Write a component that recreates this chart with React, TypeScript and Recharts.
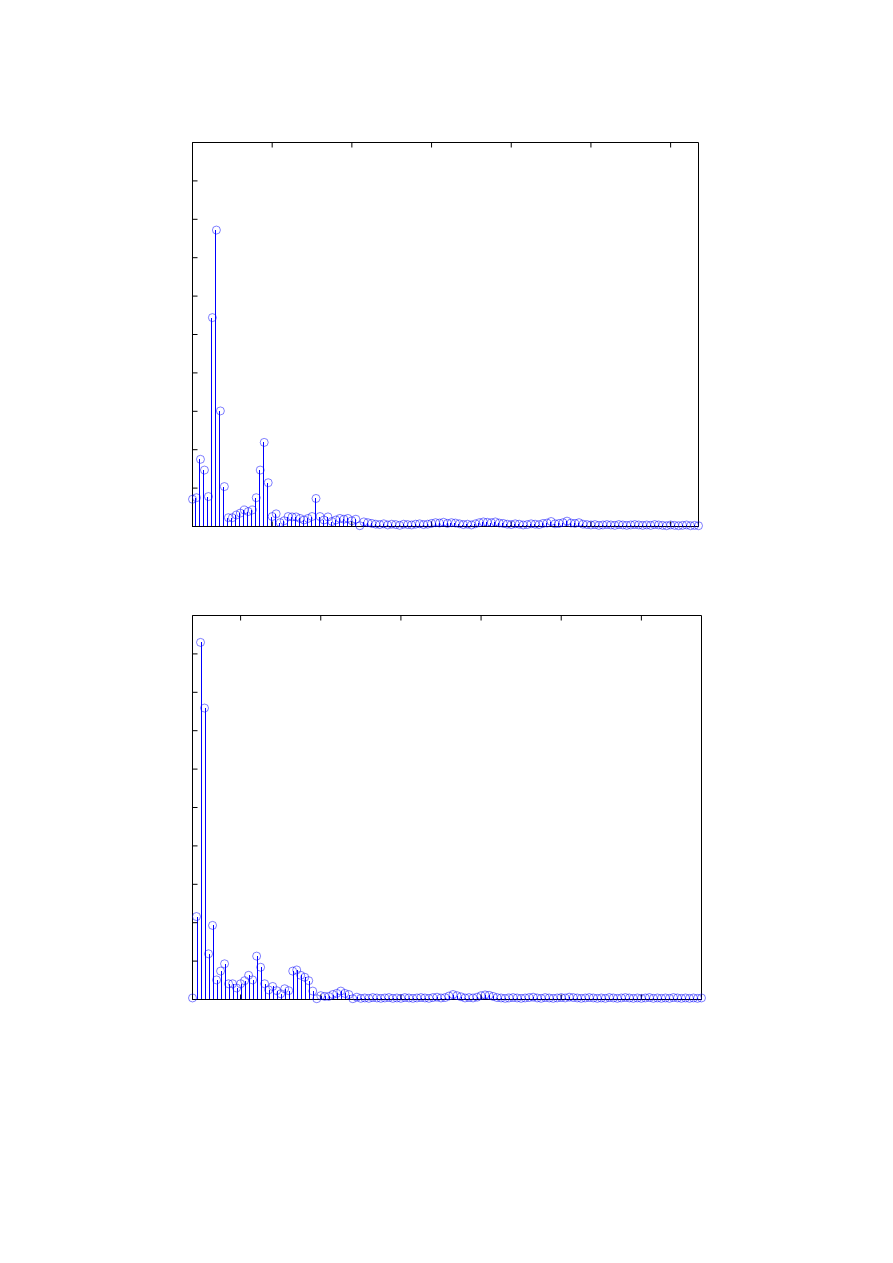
import { Bar, ComposedChart, Scatter, XAxis, YAxis } from "recharts";

// upper spectrum, first 43 bins (in y-tick units)
const topHead = [
  0.71, 0.75, 1.75, 1.47, 0.78, 5.44, 7.72, 3.01, 1.04, 0.23,
  0.23, 0.3, 0.35, 0.43, 0.39, 0.43, 0.75, 1.47, 2.19, 1.14,
  0.26, 0.33, 0.1, 0.15, 0.26, 0.25, 0.25, 0.21, 0.17, 0.21,
  0.26, 0.73, 0.26, 0.17, 0.25, 0.13, 0.17, 0.21, 0.19, 0.21,
  0.15, 0.19, 0.02,
];
const topTail = [
  0.12, 0.1, 0.08,
  0.06, 0.05, 0.07, 0.04, 0.06, 0.05, 0.03, 0.06, 0.05, 0.04, 0.06, 0.07, 0.05, 0.06, 0.08,
  0.1, 0.09, 0.11, 0.08, 0.1, 0.09, 0.07,
  0.05, 0.06, 0.04, 0.07,
  0.1, 0.12, 0.11, 0.1, 0.12, 0.09, 0.08,
  0.06, 0.05, 0.07, 0.06, 0.04, 0.05, 0.07, 0.06, 0.05, 0.08, 0.09,
  0.13, 0.07, 0.08, 0.1, 0.14, 0.09, 0.08, 0.1,
  0.06, 0.05, 0.04, 0.05, 0.03, 0.04, 0.05, 0.04, 0.03, 0.05,
  0.04, 0.03, 0.04, 0.05, 0.04, 0.03, 0.04, 0.03, 0.05, 0.04,
  0.03, 0.02, 0.04, 0.03, 0.02, 0.03, 0.04, 0.02, 0.03, 0.02,
];

// lower spectrum
const bottomHead = [
  0.04, 2.16, 9.3, 7.59, 1.19, 1.93, 0.51, 0.74, 0.93, 0.41,
  0.41, 0.3, 0.41, 0.49, 0.63, 0.51, 1.13, 0.84, 0.41, 0.25,
  0.34, 0.23, 0.15, 0.28, 0.23, 0.74, 0.77, 0.63, 0.58, 0.49,
  0.22, 0.02, 0.1, 0.08, 0.08, 0.13, 0.16, 0.22, 0.16, 0.13,
  0.02, 0.06, 0.03,
];
const bottomTail = [
  0.04, 0.03, 0.05, 0.04, 0.03, 0.04, 0.05, 0.03, 0.04, 0.03, 0.05,
  0.04, 0.03, 0.04, 0.05, 0.04, 0.03, 0.05, 0.06, 0.04, 0.05,
  0.09, 0.13, 0.1, 0.07,
  0.04, 0.05, 0.04, 0.06,
  0.1, 0.12, 0.11, 0.08,
  0.05, 0.04, 0.03, 0.04, 0.05, 0.04, 0.03, 0.04, 0.05, 0.06,
  0.04, 0.03, 0.05, 0.04, 0.03, 0.04, 0.05, 0.04, 0.06, 0.05,
  0.04, 0.03, 0.04, 0.05, 0.04, 0.03, 0.04, 0.03, 0.05, 0.04,
  0.03, 0.04, 0.05, 0.04, 0.03, 0.04, 0.03, 0.04, 0.05, 0.03,
  0.04, 0.03, 0.04, 0.03, 0.05, 0.04, 0.03, 0.04, 0.03, 0.04,
  0.03, 0.04,
];

const topXTicks = [0, 20, 40, 60, 80, 100, 120];
const bottomXTicks = [12, 32, 52, 72, 92, 112];
const yTicks = [0, 1, 2, 3, 4, 5, 6, 7, 8, 9, 10];

const topValues = [...topHead, ...topTail];
const bottomValues = [...bottomHead, ...bottomTail];

const BLUE = "#0000ff";

const ring = (p: any) => (
  <circle cx={p.cx} cy={p.cy} r={4} fill="none" stroke={BLUE} strokeWidth={0.5} />
);

const stem = (p: any) => (
  <rect x={p.x} y={p.y} width={p.width} height={p.height} fill={BLUE} shapeRendering="crispEdges" />
);

type StemProps = {
  values: number[];
  xTicks: number[];
  margin: { top: number; right: number; bottom: number; left: number };
};

// axes need a non-zero size or recharts skips drawing them, so each takes 1px
function StemPlot({ values, xTicks, margin }: StemProps) {
  const data = values.map((v, i) => ({ n: i, v }));
  const axisCommon = {
    tickFormatter: () => "",
    tickSize: -5,
    axisLine: { stroke: "#000" },
    tickLine: { stroke: "#000" },
  };
  return (
    <ComposedChart
      width={893}
      height={600}
      data={data}
      margin={{
        top: margin.top - 1,
        right: margin.right - 1,
        bottom: margin.bottom - 1,
        left: margin.left - 1,
      }}
    >
      <XAxis
        dataKey="n"
        type="number"
        domain={[0, 127]}
        ticks={xTicks}
        interval={0}
        height={1}
        {...axisCommon}
      />
      <XAxis
        xAxisId="top"
        orientation="top"
        dataKey="n"
        type="number"
        domain={[0, 127]}
        ticks={xTicks}
        interval={0}
        height={1}
        {...axisCommon}
      />
      <YAxis type="number" domain={[0, 10]} ticks={yTicks} interval={0} width={1} {...axisCommon} />
      <YAxis
        yAxisId="right"
        orientation="right"
        type="number"
        domain={[0, 10]}
        ticks={yTicks}
        interval={0}
        width={1}
        {...axisCommon}
      />
      <Bar dataKey="v" barSize={1} shape={stem} isAnimationActive={false} />
      <Scatter dataKey="v" shape={ring} isAnimationActive={false} />
    </ComposedChart>
  );
}

export default function App() {
  return (
    <div style={{ position: "absolute", left: 0, top: 0, width: 893, height: 1263, background: "#fff" }}>
      <div style={{ position: "absolute", left: 0, top: 0 }}>
        <StemPlot
          values={topValues}
          xTicks={topXTicks}
          margin={{ top: 142.5, right: 194.5, bottom: 73.5, left: 192.5 }}
        />
      </div>
      <div style={{ position: "absolute", left: 0, top: 600 }}>
        <StemPlot
          values={bottomValues}
          xTicks={bottomXTicks}
          margin={{ top: 15.5, right: 191.5, bottom: 200.5, left: 192.5 }}
        />
      </div>
    </div>
  );
}
